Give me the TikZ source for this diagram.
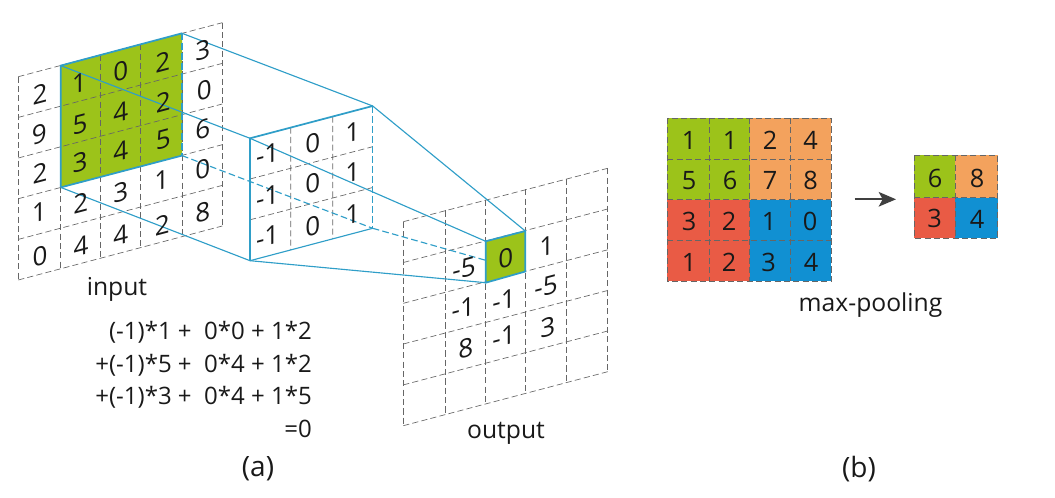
\documentclass[tikz,border=0pt]{standalone}
\usepackage{fontspec}
\setmainfont{Open Sans}
\usetikzlibrary{calc,positioning,arrows.meta}

\definecolor{winegreen}{HTML}{9CC31A}
\definecolor{poolorange}{HTML}{F3A25D}
\definecolor{poolred}{HTML}{E95B45}
\definecolor{poolblue}{HTML}{1190D2}
\definecolor{linkblue}{HTML}{2F9EC8}

\begin{document}
\begin{tikzpicture}[
    x=0.75pt, y=-0.75pt,
    gridline/.style={draw=black!60, line width=0.5pt, dash pattern=on 4.6pt off 2.4pt},
    link/.style={draw=linkblue, line width=0.85pt},
    linkdash/.style={draw=linkblue, line width=0.85pt, dash pattern=on 5pt off 2.5pt},
    edge/.style={draw=linkblue, line width=1.3pt},
    digit/.style={font=\fontsize{19.5}{22}\selectfont, text=black!90, inner sep=0pt, yslant=0.265},
    flat/.style={font=\fontsize{19}{22}\selectfont, text=black!90, inner sep=0pt},
    caption/.style={font=\fontsize{18.5}{22}\selectfont, text=black!90, inner sep=0pt},
    pooltip/.style={-{Stealth[length=13pt, width=11pt, inset=3pt]}, draw=black!75, line width=1.3pt},
]
\useasboundingbox (0,0) rectangle (1055,498);

% Window, kernel and output corners
\coordinate (win-tl) at (60.7,65.6);
\coordinate (win-tr) at (182,33.3);
\coordinate (win-br) at (182,155.6);
\coordinate (win-bl) at (60.7,187.4);
\coordinate (ker-tl) at (250,138.3);
\coordinate (ker-tr) at (372.7,106);
\coordinate (ker-br) at (372.7,228.3);
\coordinate (ker-bl) at (250,260.7);
\coordinate (out-tl) at (485.7,241.3);
\coordinate (out-tr) at (525.3,231);
\coordinate (out-br) at (525.3,271.5);
\coordinate (out-bl) at (485.7,282.7);

% Input window fill
\fill[winegreen] (win-tl) -- (win-tr) -- (win-br) -- (win-bl) -- cycle;

% Input grid
\draw[gridline] (18.3,76.7) -- (18.3,280)
    (60.7,65.6) -- (60.7,268.8)
    (100.7,55) -- (100.7,258.2)
    (140.7,44.3) -- (140.7,247.6)
    (182,33.3) -- (182,236.6)
    (222.3,22.7) -- (222.3,226);
\draw[gridline] (18.3,76.7) -- (222.3,22.7)
    (18.3,117.4) -- (222.3,63.4)
    (18.3,158) -- (222.3,104)
    (18.3,198.7) -- (222.3,144.7)
    (18.3,239.4) -- (222.3,185.4)
    (18.3,280) -- (222.3,226);

% Kernel grid
\draw[gridline] (290.7,127.6) -- (290.7,250)
    (332.7,116.6) -- (332.7,239)
    (250,179) -- (372.7,146.7)
    (250,219.8) -- (372.7,187.5);

% Output grid
\draw[gridline] (403.3,221.7) -- (403.3,425.7)
    (445.7,210.4) -- (445.7,414.4)
    (485.7,199.9) -- (485.7,403.9)
    (525.3,189.3) -- (525.3,393.3)
    (566.7,178.8) -- (566.7,382.8)
    (607.7,168.3) -- (607.7,371.7);
\draw[gridline] (403.3,221.7) -- (607.7,168.3)
    (403.3,262.5) -- (607.7,209)
    (403.3,303.3) -- (607.7,249.8)
    (403.3,344) -- (607.7,290.5)
    (403.3,384.9) -- (607.7,331)
    (403.3,425.7) -- (607.7,371.7);

% Connectors behind the output cell
\draw[linkdash] (win-br) -- (ker-br);
\draw[linkdash] (ker-br) -- (out-br);

% Output cell
\fill[winegreen] (out-tl) -- (out-tr) -- (out-br) -- (out-bl) -- cycle;
\draw[edge] (out-tl) -- (out-tr) -- (out-br) -- (out-bl) -- cycle;

% Input window and kernel outlines
\draw[edge] (win-bl) -- (win-tl) -- (win-tr);
\draw[edge] (win-bl) -- (win-br);
\draw[linkdash] (win-tr) -- (win-br);
\draw[edge] (ker-bl) -- (ker-tl) -- (ker-tr);
\draw[link] (ker-bl) -- (ker-br);
\draw[linkdash] (ker-tr) -- (ker-br);

% Connectors
\draw[link] (win-tr) -- (ker-tr) -- (out-tr);
\draw[link] (win-tl) -- (ker-tl) -- (out-tl);
\draw[link] (win-bl) -- (ker-bl) -- (out-bl);

% Input digits
\node[digit] (in-a1) at (40,94) {2};
\node[digit] (in-a2) at (39.3,134.3) {9};
\node[digit] (in-a3) at (40,173.3) {2};
\node[digit] (in-a4) at (39.3,212.7) {1};
\node[digit] (in-a5) at (40,256.7) {0};
\node[digit] (in-b1) at (79.3,83.3) {1};
\node[digit] (in-b2) at (80,124) {5};
\node[digit] (in-b3) at (80,162.7) {3};
\node[digit] (in-b4) at (80.7,202.7) {2};
\node[digit] (in-b5) at (81,246) {4};
\node[digit] (in-c1) at (120.7,71.7) {0};
\node[digit] (in-c2) at (120.7,112.7) {4};
\node[digit] (in-c3) at (120.7,151.3) {4};
\node[digit] (in-c4) at (120.7,192.3) {3};
\node[digit] (in-c5) at (120.7,235) {4};
\node[digit] (in-d1) at (162.7,61.7) {2};
\node[digit] (in-d2) at (163.3,102.3) {2};
\node[digit] (in-d3) at (163.3,139) {5};
\node[digit] (in-d4) at (161.7,180) {1};
\node[digit] (in-d5) at (162.3,225) {2};
\node[digit] (in-e1) at (202.7,50) {3};
\node[digit] (in-e2) at (204.3,90.7) {0};
\node[digit] (in-e3) at (202.7,129.3) {6};
\node[digit] (in-e4) at (202.7,169.3) {0};
\node[digit] (in-e5) at (202.7,212.3) {8};

% Kernel digits
\node[digit] (ker-a1) at (267.7,154.3) {-1};
\node[digit] (ker-a2) at (267.7,196.7) {-1};
\node[digit] (ker-a3) at (267.7,236.7) {-1};
\node[digit] (ker-b1) at (312.7,143.3) {0};
\node[digit] (ker-b2) at (312.7,183.3) {0};
\node[digit] (ker-b3) at (312.7,226) {0};
\node[digit] (ker-c1) at (352.7,132.7) {1};
\node[digit] (ker-c2) at (352.7,172.3) {1};
\node[digit] (ker-c3) at (352.7,214) {1};

% Output digits
\node[digit] (out-a1) at (464,268.3) {-5};
\node[digit] (out-a2) at (463.3,308.3) {-1};
\node[digit] (out-a3) at (465.7,348.3) {8};
\node[digit] (out-b1) at (505.7,258.3) {0};
\node[digit] (out-b2) at (504,300) {-1};
\node[digit] (out-b3) at (504,336.7) {-1};
\node[digit] (out-c1) at (546.7,246) {1};
\node[digit] (out-c2) at (546,286) {-5};
\node[digit] (out-c3) at (547.7,327.7) {3};

% Left captions
\node[caption] (input-label) at (117,289) {input};
\node[caption] (output-label) at (506,433) {output};
\node[caption, anchor=north east, align=right, font=\fontsize{18}{24.4}\selectfont] (sum-label) at (312,321) {(-1)*1 +\ \ 0*0 + 1*2\\+(-1)*5 +\ \ 0*4 + 1*2\\+(-1)*3 +\ \ 0*4 + 1*5\\=0};
\node[caption, font=\fontsize{21}{24}\selectfont] (a-label) at (258,469) {(a)};

% Max-pooling input
\fill[winegreen] (667.3,118) rectangle (749.7,199.7);
\fill[poolorange] (749.7,118) rectangle (831.3,199.7);
\fill[poolred] (667.3,199.7) rectangle (749.7,281.3);
\fill[poolblue] (749.7,199.7) rectangle (831.3,281.3);
\draw[gridline] (667.3,118) rectangle (831.3,281.3)
    (709.3,118) -- (709.3,281.3)
    (749.7,118) -- (749.7,281.3)
    (790,118) -- (790,281.3)
    (667.3,159.3) -- (831.3,159.3)
    (667.3,199.7) -- (831.3,199.7)
    (667.3,240.3) -- (831.3,240.3);

% Max-pooling output
\fill[winegreen] (914.3,155.3) rectangle (955.3,197.7);
\fill[poolorange] (955.3,155.3) rectangle (997.7,197.7);
\fill[poolred] (914.3,197.7) rectangle (955.3,238.3);
\fill[poolblue] (955.3,197.7) rectangle (997.7,238.3);
\draw[gridline] (914.3,155.3) rectangle (997.7,238.3)
    (955.3,155.3) -- (955.3,238.3)
    (914.3,197.7) -- (997.7,197.7);

% Max-pooling digits
\node[flat] (pool-a1) at (689,140.7) {1};
\node[flat] (pool-b1) at (730,140.7) {1};
\node[flat] (pool-c1) at (770,140.7) {2};
\node[flat] (pool-d1) at (810.5,140.7) {4};
\node[flat] (pool-a2) at (689,180.7) {5};
\node[flat] (pool-b2) at (730,180.7) {6};
\node[flat] (pool-c2) at (770,180.7) {7};
\node[flat] (pool-d2) at (810.5,180.7) {8};
\node[flat] (pool-a3) at (689,221.7) {3};
\node[flat] (pool-b3) at (729,221.7) {2};
\node[flat] (pool-c3) at (769,221.7) {1};
\node[flat] (pool-d3) at (810,221.7) {0};
\node[flat] (pool-a4) at (689,262) {1};
\node[flat] (pool-b4) at (729,262) {2};
\node[flat] (pool-c4) at (768.5,262) {3};
\node[flat] (pool-d4) at (811,262) {4};
\node[flat] (small-a1) at (935,178.5) {6};
\node[flat] (small-b1) at (977,178.5) {8};
\node[flat] (small-a2) at (934.5,218.5) {3};
\node[flat] (small-b2) at (977,219) {4};

% Pooling arrow
\coordinate (pool-from) at (854.7,199.3);
\coordinate (pool-to) at (896,199.3);
\draw[pooltip] (pool-from) -- (pool-to);

% Right captions
\node[caption] (pool-label) at (870.5,305) {max-pooling};
\node[caption, font=\fontsize{21}{24}\selectfont] (b-label) at (859,469) {(b)};

\end{tikzpicture}
\end{document}
